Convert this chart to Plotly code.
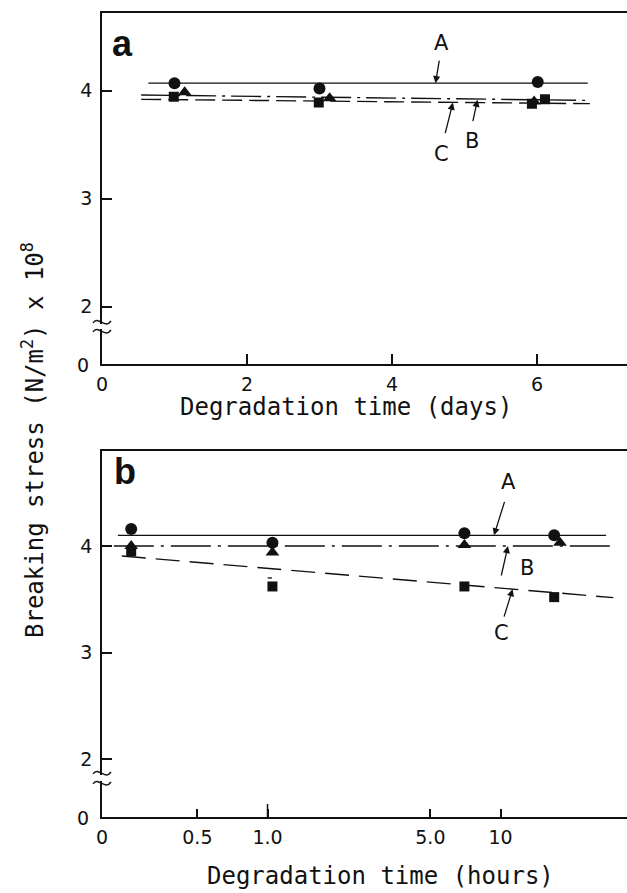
import math
import plotly.graph_objects as go

# ---------------- data: panel a (degradation time in days) ----------------
days_circle = [1.0, 3.0, 6.01]
stress_a_circle = [4.07, 4.02, 4.08]
days_triangle = [1.14, 3.14, 5.96]
stress_a_triangle = [3.985, 3.93, 3.90]
days_square = [0.99, 2.99, 5.93, 6.11]
stress_a_square = [3.945, 3.89, 3.88, 3.92]
fit_a_days_A = [0.64, 6.70]
fit_a_A = [4.07, 4.07]
fit_a_days_BC = [0.54, 6.73]
fit_a_B = [3.96, 3.91]
fit_a_C = [3.92, 3.88]
days_ticks = [0, 2, 4, 6]
days_ticktext = ["0", "2", "4", "6"]

# ---------------- data: panel b (degradation time in hours) ----------------
hours_circle = [0.26, 1.05, 7.0, 17.0]
stress_b_circle = [4.16, 4.03, 4.12, 4.10]
hours_triangle = [0.26, 1.05, 7.0, 18.0]
stress_b_triangle = [4.00, 3.94, 4.01, 4.03]
hours_square = [0.26, 1.05, 7.0, 17.0]
stress_b_square = [3.95, 3.62, 3.62, 3.52]
fit_b_hours_A = [0.228, 28.4]
fit_b_A = [4.10, 4.10]
fit_b_hours_B = [0.219, 29.8]
fit_b_B = [4.00, 4.00]
fit_b_hours_C = [0.237, 30.5]
fit_b_C = [3.906, 3.515]
hours_ticks = [0.5, 1, 5, 10]
hours_ticktext = ["0.5", "1.0", "5.0", "10"]

stress_ticks = [2, 3, 4]
stress_ticktext = ["2", "3", "4"]

# ---------------- layout constants ----------------
FIG_W, FIG_H = 627, 893
ML, MR, MT, MB = 102, 0, 13, 76
PW = FIG_W - ML - MR
PH = FIG_H - MT - MB
INK = "#111111"
FONT = "DejaVu Sans"
TITLE_FONT = "DejaVu Sans Mono"


def px_x(px):
    return (px - ML) / PW


def px_y(py):
    return (FIG_H - MB - py) / PH


fig = go.Figure()

mk = dict(color=INK)


def add_panel(xa, ya, xc, yc, xt, yt, xs, ys, fits):
    for fx, fy, dash in fits:
        fig.add_trace(go.Scatter(x=fx, y=fy, mode="lines", xaxis=xa, yaxis=ya,
                                 line=dict(color=INK, width=1.4, dash=dash),
                                 hoverinfo="skip"))
    fig.add_trace(go.Scatter(x=xc, y=yc, mode="markers", xaxis=xa, yaxis=ya,
                             marker=dict(symbol="circle", size=12, **mk)))
    fig.add_trace(go.Scatter(x=xt, y=yt, mode="markers", xaxis=xa, yaxis=ya,
                             marker=dict(symbol="triangle-up", size=12, **mk)))
    fig.add_trace(go.Scatter(x=xs, y=ys, mode="markers", xaxis=xa, yaxis=ya,
                             marker=dict(symbol="square", size=10, **mk)))


add_panel("x", "y", days_circle, stress_a_circle, days_triangle, stress_a_triangle,
          days_square, stress_a_square,
          [(fit_a_days_A, fit_a_A, "solid"),
           (fit_a_days_BC, fit_a_B, "30px,6px,3px,6px"),
           (fit_a_days_BC, fit_a_C, "20px,7px")])
add_panel("x2", "y2", hours_circle, stress_b_circle, hours_triangle, stress_b_triangle,
          hours_square, stress_b_square,
          [(fit_b_hours_A, fit_b_A, "solid"),
           (fit_b_hours_B, fit_b_B, "40px,7px,3px,7px"),
           (fit_b_hours_C, fit_b_C, "24px,10px")])

tick_font = dict(family=FONT, size=19, color=INK)
axis_common = dict(showgrid=False, zeroline=False, showline=True, linecolor=INK,
                   linewidth=1.5, ticks="inside", tickcolor=INK, tickwidth=1.5,
                   tickfont=tick_font)

# panel geometry (pixels)
a_top, a_bot = 13, 364.3
b_top, b_bot = 451, 817
a_y4, a_unit = 90.7, 108.0
b_y4, b_unit = 546.0, 106.5
a_xrange = [0, PW / 72.5]
b_log0 = -(267.5 - ML) / 233.0
b_xrange = [b_log0, b_log0 + PW / 233.0]

fig.update_layout(
    width=FIG_W, height=FIG_H,
    margin=dict(l=ML, r=MR, t=MT, b=MB),
    paper_bgcolor="white", plot_bgcolor="white",
    showlegend=False,
    xaxis=dict(domain=[0, 1], anchor="y", range=a_xrange, tickmode="array",
               tickvals=days_ticks, ticktext=days_ticktext, ticklen=11,
               mirror=True, ticklabelstandoff=2, **axis_common),
    yaxis=dict(domain=[px_y(a_bot), px_y(a_top)], anchor="x",
               range=[4 - (a_bot - a_y4) / a_unit, 4 + (a_y4 - a_top) / a_unit],
               tickmode="array", tickvals=stress_ticks, ticktext=stress_ticktext,
               ticklen=10, ticklabelstandoff=4, **axis_common),
    xaxis2=dict(domain=[0, 1], anchor="y2", type="log", range=b_xrange,
                tickmode="array", tickvals=hours_ticks, ticktext=hours_ticktext,
                ticklen=8, mirror=True, ticklabelstandoff=2, **axis_common),
    yaxis2=dict(domain=[px_y(b_bot), px_y(b_top)], anchor="x2",
                range=[4 - (b_bot - b_y4) / b_unit, 4 + (b_y4 - b_top) / b_unit],
                tickmode="array", tickvals=stress_ticks, ticktext=stress_ticktext,
                ticklen=10, ticklabelstandoff=4, **axis_common),
)

ann = []


def text(x, y, s, xref, yref, size=21, bold=False, **kw):
    d = dict(x=x, y=y, xref=xref, yref=yref, text=("<b>%s</b>" % s) if bold else s,
             showarrow=False, xanchor="center", yanchor="middle",
             font=dict(family=FONT if not bold else "Liberation Sans",
                       size=size, color=INK))
    d.update(kw)
    ann.append(d)


def arrow(x, y, dx, dy, xref, yref):
    ann.append(dict(x=x, y=y, xref=xref, yref=yref, ax=dx, ay=dy, text="",
                    showarrow=True, arrowhead=2, arrowsize=1.1, arrowwidth=1.3,
                    arrowcolor=INK))


# panel labels
text(px_x(122), px_y(43), "a", "paper", "paper", size=36, bold=True)
text(px_x(125), px_y(472), "b", "paper", "paper", size=36, bold=True)

# panel a curve labels
text(4.68, 4.44, "A", "x", "y")
arrow(4.60, 4.07, 4, -24, "x", "y")
text(5.11, 3.53, "B", "x", "y")
arrow(5.18, 3.917, -5, 23, "x", "y")
text(4.68, 3.41, "C", "x", "y")
arrow(4.84, 3.89, -8, 32, "x", "y")

# panel b curve labels (log x positions)
text(1.034, 4.60, "A", "x2", "y2")
arrow(0.972, 4.10, 11, -35, "x2", "y2")
text(1.112, 3.79, "B", "x2", "y2")
arrow(1.032, 4.00, -7, 31, "x2", "y2")
text(1.005, 3.18, "C", "x2", "y2")
arrow(1.052, 3.595, -9, 29, "x2", "y2")

# origin "0" labels for the broken axes
for xr, yr in (("x domain", "y domain"), ("x2 domain", "y2 domain")):
    ann.append(dict(x=0, y=0, xref=xr, yref=yr, text="0", showarrow=False,
                    xanchor="right", yanchor="middle", xshift=-11, yshift=-1,
                    font=tick_font))
ann.append(dict(x=0, y=0, xref="x2 domain", yref="y2 domain", text="0", showarrow=False,
                xanchor="center", yanchor="top", yshift=-7, font=tick_font))

# axis titles
title_font = dict(family=TITLE_FONT, size=24, color=INK)
ann.append(dict(x=px_x(346), y=px_y(407), xref="paper", yref="paper",
                xanchor="center", yanchor="middle",
                text="Degradation time (days)", showarrow=False, font=title_font))
ann.append(dict(x=px_x(380), y=px_y(876), xref="paper", yref="paper",
                xanchor="center", yanchor="middle",
                text="Degradation time (hours)", showarrow=False, font=title_font))
ann.append(dict(x=px_x(33), y=px_y(440), xref="paper", yref="paper", textangle=-90,
                xanchor="center", yanchor="middle",
                text="Breaking stress (N/m<sup>2</sup>) x 10<sup>8</sup>",
                showarrow=False, font=title_font))

fig.update_layout(annotations=ann)

# shapes: axis breaks, B bracket foot, longer decade ticks
shapes = []


def wave(cx, cy):
    pts = [(cx - 9, cy + 1), (cx - 4, cy - 7), (cx + 3, cy + 8), (cx + 9, cy - 1)]
    p = ["%.5f %.5f" % (px_x(a), px_y(b)) for a, b in pts]
    return "M %s C %s, %s, %s" % tuple(p)


for top_wave, bot_wave in ((322, 331), (773, 783)):
    shapes.append(dict(type="rect", xref="paper", yref="paper",
                       x0=px_x(ML - 4), x1=px_x(ML + 4),
                       y0=px_y(top_wave + 2), y1=px_y(bot_wave - 2),
                       fillcolor="white", line=dict(width=0), layer="above"))
    for wy in (top_wave, bot_wave):
        shapes.append(dict(type="path", xref="paper", yref="paper", path=wave(ML, wy),
                           line=dict(color=INK, width=1.4), layer="above"))

# foot of the "L" pointer for B in panel b
shapes.append(dict(type="line", xref="x2", yref="y2", x0=1.002, x1=1.045, y0=3.70, y1=3.70,
                   line=dict(color=INK, width=1.3)))
# longer ticks at 1 and 10 hours
for lv in (0, 1):
    shapes.append(dict(type="line", xref="x2", yref="y2 domain", x0=lv, x1=lv,
                       y0=0, y1=13 / (b_bot - b_top), line=dict(color=INK, width=1.5)))

fig.update_layout(shapes=shapes)

fig.write_html("out.html")
